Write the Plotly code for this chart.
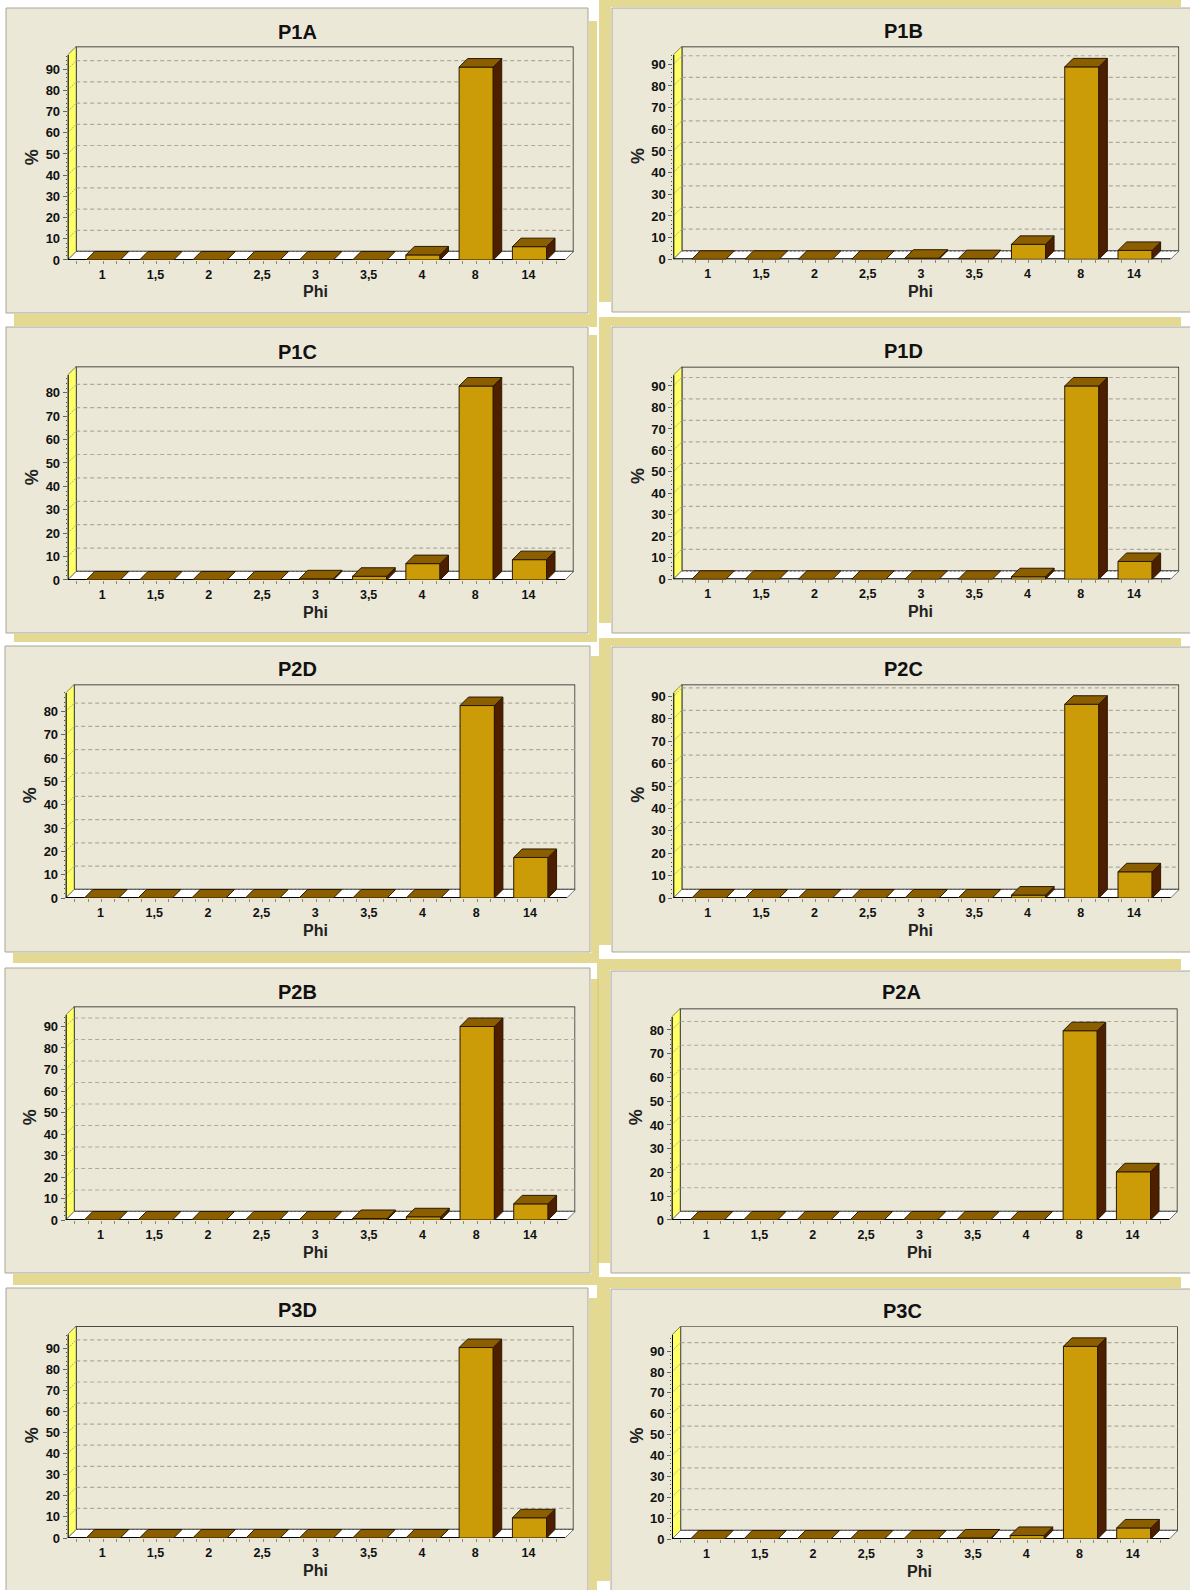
import plotly.graph_objects as go

# ---------- data ----------
phi_labels = ["1", "1,5", "2", "2,5", "3", "3,5", "4", "8", "14"]
P1A = [0, 0, 0, 0, 0, 0, 2.4, 91, 6.3]
P1B = [0, 0, 0, 0, 0.5, 0.3, 6.9, 88.8, 4.1]
P1C = [0, 0, 0, 0, 0.5, 1.6, 7, 82.9, 8.7]
P1D = [0, 0, 0, 0, 0, 0, 1.2, 90, 8.3]
P2D = [0, 0, 0, 0, 0, 0, 0, 82.6, 17.4]
P2C = [0, 0, 0, 0, 0, 0, 1.3, 86.5, 11.7]
P2B = [0, 0, 0, 0, 0, 0.7, 1.5, 90, 7.5]
P2A = [0, 0, 0, 0, 0, 0, 0, 79.7, 20.3]
P3D = [0, 0, 0, 0, 0, 0, 0, 90.4, 9.6]
P3C = [0, 0, 0, 0, 0, 0.5, 1.7, 92.3, 5.3]
ticks_90 = [0, 10, 20, 30, 40, 50, 60, 70, 80, 90]
ticks_80 = [0, 10, 20, 30, 40, 50, 60, 70, 80]

# ---------- layout (pixels on the page) ----------
W, H = 1190, 1590
DEPTH = 8.5
TAN, PANEL, EDGE = "#E3D992", "#EBE8D8", "#A9A698"
YELLOW, GOLD, BROWN, DARK = "#FFFF66", "#CC9C08", "#8B5E00", "#4D1F00"
GRID = "#ADAA9C"
FONT = "Liberation Sans"

# name, values, ticks, panel box, shadow box, front-left x, zero y, px per unit, axis top value, front width
panels = [
    ("P1A", P1A, ticks_90, (6, 8, 588, 313), (14, 21, 597, 327), 67.7, 260, 2.12, 96.7, 497.3),
    ("P1B", P1B, ticks_90, (612, 8, 1200, 312), (599, 0, 1181, 302), 673.3, 259.3, 2.167, 94.3, 497.3),
    ("P1C", P1C, ticks_80, (6, 327, 588, 633), (14, 335, 597, 642), 67.7, 580, 2.34, 87.6, 497.3),
    ("P1D", P1D, ticks_90, (612, 327, 1200, 633), (599, 317, 1181, 623), 673.3, 579.3, 2.148, 95, 497.3),
    ("P2D", P2D, ticks_80, (5, 646, 590, 952), (13, 656, 599, 963), 65.7, 898, 2.33, 88, 501),
    ("P2C", P2C, ticks_90, (612, 647, 1200, 952), (599, 638, 1181, 945), 673.3, 898, 2.24, 91.5, 497.3),
    ("P2B", P2B, ticks_90, (5, 968, 590, 1273), (13, 979, 599, 1285), 65.7, 1220, 2.15, 95.3, 501),
    ("P2A", P2A, ticks_80, (611, 971, 1200, 1273), (597, 959, 1181, 1263), 671.7, 1220, 2.375, 85.5, 497.3),
    ("P3D", P3D, ticks_90, (6, 1288, 588, 1620), (14, 1298, 597, 1620), 67.7, 1538, 2.107, 96.6, 497.3),
    ("P3C", P3C, ticks_90, (611, 1289, 1200, 1620), (597, 1277, 1181, 1581), 672, 1539, 2.087, 97.8, 497.3),
]

PAD = 0.667
BAR_W = 0.64
fig = go.Figure()
shapes, annotations, axes = [], [], {}


def px(v):
    return v / W


def py(v):
    return 1 - v / H


def poly(xs, ys):
    return list(xs) + [xs[0], None], list(ys) + [ys[0], None]


def fill_trace(polys, fill, line, width, ax):
    xs, ys = [], []
    for a, b in polys:
        p, q = poly(a, b)
        xs += p
        ys += q
    return go.Scatter(x=xs, y=ys, mode="lines", fill="toself", fillcolor=fill,
                      line=dict(color=line, width=width), hoverinfo="skip",
                      showlegend=False, xaxis=ax[0], yaxis=ax[1], cliponaxis=False)


def line_trace(xs, ys, color, width, ax, dash="solid"):
    return go.Scatter(x=xs, y=ys, mode="lines", line=dict(color=color, width=width, dash=dash),
                      hoverinfo="skip", showlegend=False, xaxis=ax[0], yaxis=ax[1], cliponaxis=False)


for _, _, _, _, s, *_ in panels:
    shapes.append(dict(type="rect", xref="paper", yref="paper", layer="below", x0=px(s[0]), x1=px(s[2]),
                       y0=py(s[1]), y1=py(s[3]), fillcolor=TAN, line=dict(width=0)))
# the two translucent shadows overlap in a thin strip
shapes.append(dict(type="rect", xref="paper", yref="paper", layer="below", x0=px(597), x1=px(599),
                   y0=py(979), y1=py(1263), fillcolor="#DCD07E", line=dict(width=0)))

for i, (name, vals, ticks, box, _, xl, y0, scale, top, width) in enumerate(panels):
    shapes.append(dict(type="rect", xref="paper", yref="paper", layer="below", x0=px(box[0] - 1), x1=px(box[2] + 1),
                       y0=py(box[1] - 1), y1=py(box[3] + 1), fillcolor="#FFFFFF", line=dict(width=0)))
    shapes.append(dict(type="rect", xref="paper", yref="paper", layer="below", x0=px(box[0]), x1=px(box[2]),
                       y0=py(box[1]), y1=py(box[3]), fillcolor=PANEL, line=dict(color=EDGE, width=1)))

    n_bg, n_fg = 2 * i + 1, 2 * i + 2
    bg = (f"x{n_bg}", f"y{n_bg}")
    fg = (f"x{n_fg}", f"y{n_fg}")
    cat_px = width / (len(vals) - 1 + 2 * PAD)
    dx, dy = DEPTH / cat_px, DEPTH / scale
    xmin, xmax = -PAD, len(vals) - 1 + PAD
    xr = [xmin, xmax + dx]
    yr = [0, top + dy]
    dom_x = [px(xl), px(xl + width + DEPTH)]
    dom_y = [py(y0), py(y0 - top * scale - DEPTH)]

    # back wall, left wall and floor
    fig.add_trace(fill_trace([([xmin + dx, xmax + dx, xmax + dx, xmin + dx], [dy, dy, top + dy, top + dy])],
                             PANEL, "#151515", 1.4, bg))
    for t in ticks[1:]:
        fig.add_trace(line_trace([xmin + dx, xmax + dx], [t + dy, t + dy], GRID, 1.2, bg, "4px,3px"))
    fig.add_trace(fill_trace([([xmin, xmin + dx, xmin + dx, xmin], [0, dy, top + dy, top])], YELLOW, "#555555", 0.7, bg))
    for t in ticks[1:]:
        fig.add_trace(line_trace([xmin, xmin + dx], [t, t + dy], GRID, 1, bg, "2px,1px"))
    fig.add_trace(fill_trace([([xmin, xmax, xmax + dx, xmin + dx], [0, 0, dy, dy])], "#FFFFFF", "#777777", 1, bg))
    fig.add_trace(line_trace([xmin + dx, xmax + dx], [dy, dy], "#555555", 1.2, bg, "2px,2px"))
    fig.add_trace(line_trace([xmin, xmax], [0, 0], "#000000", 2, bg))
    fig.add_trace(line_trace([xmin, xmin], [0, top], "#000000", 2, bg))

    # bars: front faces, then tops and sides
    idx = list(range(len(vals)))
    fig.add_trace(go.Bar(x=idx, y=vals, width=BAR_W, marker=dict(color=GOLD, line=dict(color="#2A1A00", width=1)),
                         hoverinfo="skip", showlegend=False, xaxis=fg[0], yaxis=fg[1]))
    tops, sides = [], []
    for k, v in zip(idx, vals):
        a, b = k - BAR_W / 2, k + BAR_W / 2
        tops.append(([a, b, b + dx, a + dx], [v, v, v + dy, v + dy]))
        if v > 0:
            sides.append(([b, b + dx, b + dx, b], [0, dy, v + dy, v]))
    fig.add_trace(fill_trace(sides, DARK, "#2A1A00", 1, fg))
    fig.add_trace(fill_trace(tops, BROWN, "#2A1A00", 1, fg))

    minor_x = [k / 4 for k in range(-2, 4 * len(vals) - 1)]
    minor_y = list(range(0, int(top) + 1, 2))
    base_x = dict(domain=dom_x, range=xr, fixedrange=True, showgrid=False, zeroline=False, showline=False, automargin=False)
    base_y = dict(domain=dom_y, range=yr, fixedrange=True, showgrid=False, zeroline=False, showline=False, automargin=False)
    axes[f"xaxis{n_bg}"] = dict(base_x, anchor=bg[1], tickmode="array", tickvals=idx, ticktext=phi_labels,
                                ticks="outside", ticklen=3, tickcolor="#8A8A7A", ticklabelshift=-1,
                                tickfont=dict(family=FONT, size=12.5, color="#111111", weight="bold"),
                                minor=dict(ticks="outside", ticklen=3, tickcolor="#8A8A7A", tickmode="array", tickvals=minor_x))
    axes[f"yaxis{n_bg}"] = dict(base_y, anchor=bg[0], tickmode="array", tickvals=ticks, ticktext=[str(t) for t in ticks],
                                ticks="outside", ticklen=4, tickcolor="#666666",
                                tickfont=dict(family=FONT, size=13, color="#111111", weight="bold"),
                                minor=dict(ticks="outside", ticklen=1, tickcolor="#555555", tickmode="array", tickvals=minor_y))
    axes[f"xaxis{n_fg}"] = dict(base_x, anchor=fg[1], visible=False)
    axes[f"yaxis{n_fg}"] = dict(base_y, anchor=fg[0], visible=False)

    annotations.append(dict(text=f"<b>{name}</b>", x=px(xl + width / 2 - 18.6), y=py(y0 - 228.5), xref="paper", yref="paper",
                            xanchor="center", yanchor="middle", showarrow=False,
                            font=dict(family=FONT, size=20, color="#111111")))
    annotations.append(dict(text="<b>Phi</b>", x=px(xl + width / 2 - 1.2), y=py(y0 + 32), xref="paper", yref="paper",
                            xanchor="center", yanchor="middle", showarrow=False,
                            font=dict(family=FONT, size=16, color="#222222")))
    annotations.append(dict(text="<b>%</b>", x=px(xl - 35.5), y=py(y0 - 103), xref="paper", yref="paper", textangle=-90,
                            xanchor="center", yanchor="middle", showarrow=False,
                            font=dict(family=FONT, size=18, color="#222222")))

fig.update_layout(width=W, height=H, margin=dict(l=0, r=0, t=0, b=0, autoexpand=False), autosize=False,
                  paper_bgcolor="#FFFFFF", plot_bgcolor="rgba(0,0,0,0)", showlegend=False,
                  shapes=shapes, annotations=annotations, barmode="overlay", **axes)
fig.write_html("out.html", config=dict(displayModeBar=False),
               post_script="var r=document.documentElement,b=document.body;"
                           "r.style.margin=b.style.margin='0';r.style.padding=b.style.padding='0';"
                           "r.style.height=b.style.height='1590px';r.style.overflow=b.style.overflow='hidden';")
